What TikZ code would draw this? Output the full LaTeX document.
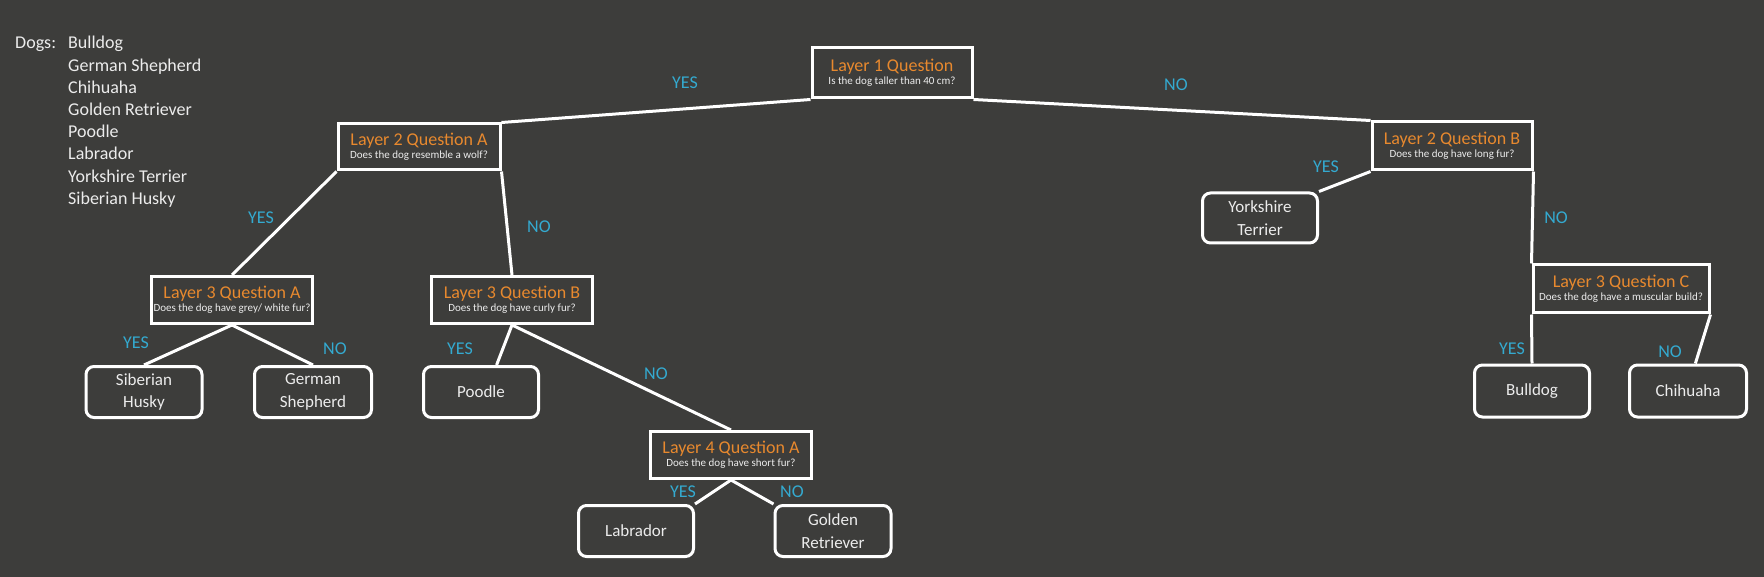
\documentclass[tikz,border=0pt]{standalone}
\usepackage{fontspec}
\setmainfont{Carlito}
\usepackage{xcolor}
\usepackage{tikz}
\usetikzlibrary{shapes,arrows}
\definecolor{bgdark}{RGB}{61,61,59}
\definecolor{qorange}{RGB}{232,137,46}
\definecolor{anscyan}{RGB}{52,170,208}
\definecolor{softwhite}{RGB}{236,236,236}
\newcommand{\qtitle}[1]{{\color{qorange}\fontsize{18}{20}\selectfont #1}}
\newcommand{\qsub}[1]{{\fontsize{11}{13}\selectfont #1}}
\tikzstyle{question} = [rectangle, draw=white, line width=3pt, align=center,
    text=softwhite, minimum width=161pt, minimum height=47pt, inner sep=2pt,
    font=\fontsize{11}{13}\selectfont]
\tikzstyle{leaf} = [rectangle, draw=white, line width=3pt, rounded corners=8pt,
    align=center, text=softwhite, minimum width=116pt, minimum height=51pt,
    font=\fontsize{17}{22.5}\selectfont]
\tikzstyle{answer} = [text=anscyan, font=\fontsize{18}{20}\selectfont, inner sep=0pt]
\tikzstyle{listtext} = [text=softwhite, font=\fontsize{18}{22}\selectfont, inner sep=0pt]
\tikzstyle{line} = [draw=white, line width=3pt]

\begin{document}
\begin{tikzpicture}[x=1pt, y=-1pt]
      \fill [bgdark] (0,0) rectangle (1764,577);
      \useasboundingbox (0,0) rectangle (1764,577);

      % Dog list
      \node [listtext, anchor=base west] (dogsLabel) at (15,49) {Dogs:};
      \foreach \dog [count=\i] in {Bulldog, German Shepherd, Chihuaha, Golden Retriever, Poodle, Labrador, Yorkshire Terrier, Siberian Husky}
        \node [listtext, anchor=base west] (dog\i) at ({68},{49+22.2*(\i-1)}) {\dog};

      % Place nodes
      \node [question, minimum width=160pt, minimum height=50pt] (layerOne) at (892,73) {\qtitle{Layer 1 Question}\\\qsub{Is the dog taller than 40 cm?}};
      \node [question, minimum width=162pt, minimum height=46pt] (layerTwoA) at (419,147) {\qtitle{Layer 2 Question A}\\\qsub{Does the dog resemble a wolf?}};
      \node [question, minimum width=160pt, minimum height=48pt] (layerTwoB) at (1452,146) {\qtitle{Layer 2 Question B}\\\qsub{Does the dog have long fur?}};

      \node [question] (layerThreeA) at (232,300) {\qtitle{Layer 3 Question A}\\\qsub{Does the dog have grey/ white fur?}};
      \node [question] (layerThreeB) at (512,300) {\qtitle{Layer 3 Question B}\\\qsub{Does the dog have curly fur?}};
      \node [question, minimum width=176pt, minimum height=48pt] (layerThreeC) at (1621,289) {\qtitle{Layer 3 Question C}\\\qsub{Does the dog have a muscular build?}};
      \node [question] (layerFourA) at (731,455) {\qtitle{Layer 4 Question A}\\\qsub{Does the dog have short fur?}};

      \node [leaf, minimum width=115pt, minimum height=50pt] (yorkshire) at (1260,218) {Yorkshire\\Terrier};
      \node [leaf] (husky) at (144,392) {Siberian\\Husky};
      \node [leaf, minimum width=117pt] (shepherd) at (313,392) {German\\Shepherd};
      \node [leaf, minimum width=115pt] (poodle) at (481,392) {Poodle};
      \node [leaf, minimum width=115pt] (labrador) at (636,531) {Labrador};
      \node [leaf] (golden) at (833,531) {Golden\\Retriever};
      \node [leaf, minimum width=115pt, minimum height=52pt] (bulldog) at (1532,391) {Bulldog};
      \node [leaf, minimum width=117pt, minimum height=52pt] (chihuaha) at (1688,391) {Chihuaha};

      % Answers
      \node [answer] (yesOne) at (685,83) {YES};
      \node [answer] (noOne) at (1176,85) {NO};
      \node [answer] (yesTwoA) at (261,218) {YES};
      \node [answer] (noTwoA) at (539,227) {NO};
      \node [answer] (yesTwoB) at (1326,167) {YES};
      \node [answer] (noTwoB) at (1556,218) {NO};
      \node [answer] (yesThreeA) at (136,343) {YES};
      \node [answer] (noThreeA) at (335,349) {NO};
      \node [answer] (yesThreeB) at (460,349) {YES};
      \node [answer] (noThreeB) at (656,374) {NO};
      \node [answer] (yesThreeC) at (1512,349) {YES};
      \node [answer] (noThreeC) at (1670,352) {NO};
      \node [answer] (yesFourA) at (683,492) {YES};
      \node [answer] (noFourA) at (792,492) {NO};

      \path [line] (layerOne.south west) -- (layerTwoA.north east);
      \path [line] (layerOne.south east) -- (layerTwoB.north west);
      \path [line] (layerTwoA.south west) -- (layerThreeA.north);
      \path [line] (layerTwoA.south east) -- (layerThreeB.north);
      \path [line] (layerTwoB.south west) -- (yorkshire.north east);
      \path [line] (layerTwoB.south east) -- (layerThreeC.north west);
      %
      \path [line] (layerThreeA.south) -- (husky.north);
      \path [line] (layerThreeA.south) -- (shepherd.north);
      \path [line] (layerThreeB.south) -- (poodle.60);
      \path [line] (layerThreeB.south) -- (layerFourA.north);
      \path [line] (layerFourA.south) -- (labrador.north east);
      \path [line] (layerFourA.south) -- (golden.north west);
      \path [line] (layerThreeC.south west) -- (bulldog.north);
      \path [line] (layerThreeC.south east) -- (chihuaha.75);

\end{tikzpicture}
\end{document}
